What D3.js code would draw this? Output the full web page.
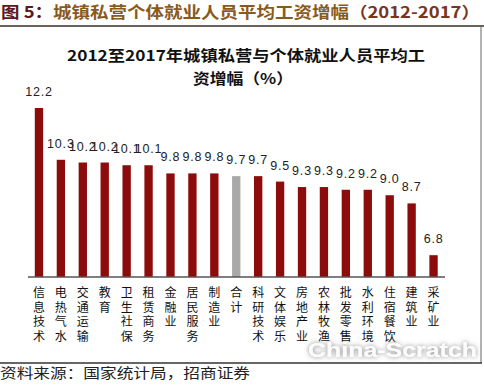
<!DOCTYPE html>
<html>
<head>
<meta charset="utf-8">
<script src="https://cdn.jsdelivr.net/npm/d3@7"></script>
<style>
  html, body { margin: 0; padding: 0; background: #fff; }
  svg { display: block; }
</style>
</head>
<body>
<script>
// data
const categories = ["信息技术","电热气水","交通运输","教育","卫生社保","租赁商务","金融业","居民服务","制造业","合计",
  "科研技术","文体娱乐","房地产业","农林牧渔","批发零售","水利环境","住宿餐饮","建筑业","采矿业"];
const values = [12.2,10.3,10.2,10.2,10.1,10.1,9.8,9.8,9.8,9.7,9.7,9.5,9.3,9.3,9.2,9.2,9.0,8.7,6.8];
const totalName = "合计";
const yDomain = [6, 12.2];

const W = 484, H = 385;
const cjk = "'Noto Sans CJK SC', sans-serif";

const svg = d3.select("body").append("svg")
  .attr("width", W)
  .attr("height", H);

// page title + rule
const title = svg.append("text")
  .attr("x", 1).attr("y", 18)
  .attr("font-family", cjk)
  .attr("font-weight", "bold")
  .attr("font-size", 16)
  .attr("textLength", 479)
  .attr("lengthAdjust", "spacingAndGlyphs");
title.append("tspan").attr("fill", "#5e1620").text("图 5：");
title.append("tspan").attr("fill", "#8a5a1c").text("城镇私营个体就业人员平均工资增幅");
title.append("tspan").attr("fill", "#7a3520").text("（2012-2017）");

svg.append("line")
  .attr("x1", 0).attr("x2", W)
  .attr("y1", 26).attr("y2", 26)
  .attr("stroke", "#3a2b2b").attr("stroke-width", 1.5);

// frame on the right and footer rule
svg.append("line")
  .attr("x1", 481).attr("x2", 481)
  .attr("y1", 26).attr("y2", 363)
  .attr("stroke", "#666").attr("stroke-width", 1);
svg.append("line")
  .attr("x1", 0).attr("x2", 482)
  .attr("y1", 363).attr("y2", 363)
  .attr("stroke", "#333").attr("stroke-width", 1.5);

// chart title
svg.append("text")
  .attr("x", 246).attr("y", 61)
  .attr("text-anchor", "middle")
  .attr("font-family", cjk).attr("font-weight", "bold").attr("font-size", 15)
  .attr("textLength", 358).attr("lengthAdjust", "spacingAndGlyphs")
  .attr("fill", "#111")
  .text("2012至2017年城镇私营与个体就业人员平均工");
svg.append("text")
  .attr("x", 243).attr("y", 84)
  .attr("text-anchor", "middle")
  .attr("font-family", cjk).attr("font-weight", "bold").attr("font-size", 15)
  .attr("textLength", 100).attr("lengthAdjust", "spacingAndGlyphs")
  .attr("fill", "#111")
  .text("资增幅（%）");

// scales
const x = d3.scaleBand()
  .domain(categories)
  .range([28, 444.5])
  .paddingInner(0.62)
  .paddingOuter(0.31);

const y = d3.scaleLinear()
  .domain(yDomain)
  .range([277, 108]);

const data = categories.map((c, i) => ({ name: c, value: values[i] }));

// bars
svg.selectAll("rect.bar")
  .data(data)
  .enter().append("rect")
  .attr("class", "bar")
  .attr("x", d => x(d.name))
  .attr("width", x.bandwidth())
  .attr("y", d => y(d.value))
  .attr("height", d => y(yDomain[0]) - y(d.value))
  .attr("fill", d => d.name === totalName ? "#a8a8a8" : "#8c0b0b");

// axis line
svg.append("line")
  .attr("x1", 28).attr("x2", 445)
  .attr("y1", y(yDomain[0])).attr("y2", y(yDomain[0]))
  .attr("stroke", "#555").attr("stroke-width", 1.5);

// value labels
svg.selectAll("text.val")
  .data(data)
  .enter().append("text")
  .attr("class", "val")
  .attr("x", d => x(d.name) + x.bandwidth() / 2)
  .attr("y", d => y(d.value) - 12)
  .attr("text-anchor", "middle")
  .attr("font-family", "'Liberation Sans', Arial, sans-serif")
  .attr("font-size", 12.5)
  .attr("letter-spacing", 0.8)
  .attr("fill", "#222")
  .text(d => d.value.toFixed(1));

// vertical category labels, one character per line
const cat = svg.selectAll("text.cat")
  .data(data)
  .enter().append("text")
  .attr("class", "cat")
  .attr("text-anchor", "middle")
  .attr("font-family", cjk)
  .attr("font-size", 12)
  .attr("fill", "#111");
cat.each(function(d) {
  const cx = x(d.name) + x.bandwidth() / 2;
  Array.from(d.name).forEach((ch, i) => {
    d3.select(this).append("tspan")
      .attr("x", cx)
      .attr("y", 297 + i * 14.5)
      .text(ch);
  });
});

// source note
svg.append("text")
  .attr("x", 0).attr("y", 378)
  .attr("font-family", cjk).attr("font-size", 14)
  .attr("textLength", 250).attr("lengthAdjust", "spacingAndGlyphs")
  .attr("fill", "#222")
  .text("资料来源：国家统计局，招商证券");

// watermark
const defs = svg.append("defs");
const f = defs.append("filter").attr("id", "wm").attr("x", "-10%").attr("y", "-30%").attr("width", "120%").attr("height", "160%");
f.append("feDropShadow").attr("dx", 0).attr("dy", 0).attr("stdDeviation", 2.5)
  .attr("flood-color", "#555").attr("flood-opacity", 0.8);
svg.append("text")
  .attr("x", 308).attr("y", 357)
  .attr("font-family", "'Liberation Sans', Arial, sans-serif")
  .attr("font-weight", "bold").attr("font-size", 20)
  .attr("textLength", 169).attr("lengthAdjust", "spacingAndGlyphs")
  .attr("fill", "#fff").attr("fill-opacity", 0.9)
  .attr("filter", "url(#wm)")
  .text("China-Scratch");
</script>
</body>
</html>
